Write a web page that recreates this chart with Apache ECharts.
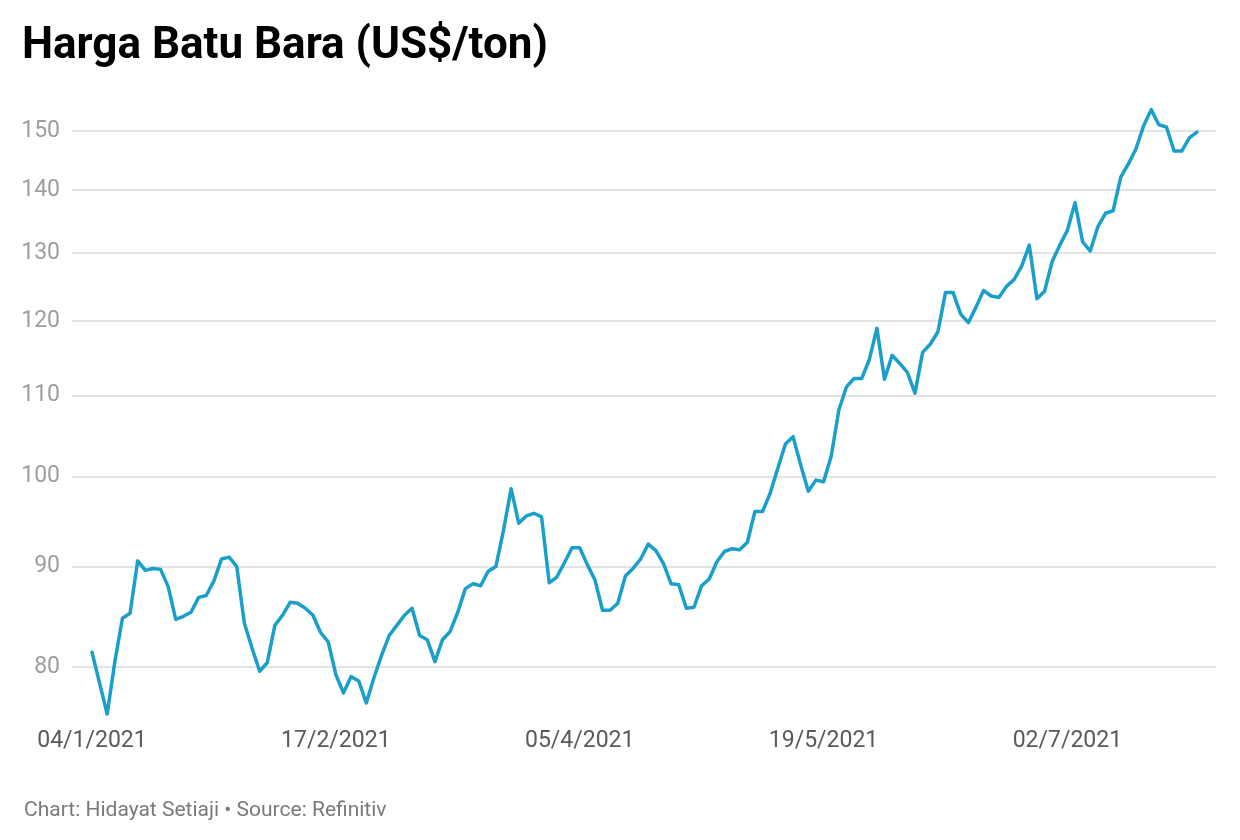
<!DOCTYPE html>
<html>
<head>
<meta charset="utf-8">
<script src="https://cdn.jsdelivr.net/npm/echarts@6/dist/echarts.min.js"></script>
<style>
html,body{margin:0;padding:0;background:#fff;}
#c{width:1240px;height:840px;}
</style>
</head>
<body>
<div id="c"></div>
<script>
// Harga batu bara (US$/ton), trading days from 04/1/2021
var prices = [
  81.4, 78.5, 75.7, 80.5, 84.7, 85.2, 90.6, 89.6, 89.8, 89.7,
  87.9, 84.6, 84.9, 85.3, 86.8, 87.0, 88.5, 90.8, 91.0, 90.0,
  84.2, 81.8, 79.6, 80.4, 84.0, 85.0, 86.3, 86.2, 85.7, 85.0,
  83.3, 82.4, 79.3, 77.6, 79.1, 78.7, 76.7, 79.0, 81.1, 83.0,
  84.0, 85.0, 85.7, 83.0, 82.6, 80.5, 82.6, 83.4, 85.3, 87.7,
  88.2, 88.0, 89.5, 90.0, 93.9, 98.6, 94.7, 95.5, 95.8, 95.4,
  88.3, 88.9, 90.4, 92.0, 92.0, 90.2, 88.6, 85.5, 85.5, 86.2,
  89.0, 89.8, 90.8, 92.4, 91.7, 90.3, 88.2, 88.1, 85.7, 85.8,
  88.0, 88.7, 90.5, 91.6, 91.9, 91.8, 92.6, 96.0, 96.0, 98.1,
  101.0, 103.9, 104.8, 101.4, 98.3, 99.6, 99.4, 102.4, 108.1, 111.1,
  112.2, 112.2, 114.7, 119.0, 112.1, 115.3, 114.2, 113.0, 110.3, 115.7,
  116.8, 118.5, 124.1, 124.1, 121.0, 119.8, 122.0, 124.4, 123.6, 123.4,
  125.0, 126.0, 128.0, 131.2, 123.2, 124.3, 128.7, 131.2, 133.5, 137.9,
  131.7, 130.3, 134.1, 136.2, 136.6, 142.1, 144.3, 146.9, 150.9, 153.8,
  151.1, 150.7, 146.5, 146.5, 148.8, 149.8
];
var xTickIndex = [0, 32, 64, 96, 128];
var xTickLabels = ['04/1/2021', '17/2/2021', '05/4/2021', '19/5/2021', '02/7/2021'];
var yTicks = [80, 90, 100, 110, 120, 130, 140, 150];

var seriesData = prices.map(function (v, i) { return [i, v]; });
var labelMap = {};
xTickIndex.forEach(function (idx, k) { labelMap[idx] = xTickLabels[k]; });

var chart = echarts.init(document.getElementById('c'), null, {renderer: 'canvas'});
chart.setOption({
  animation: false,
  backgroundColor: '#ffffff',
  title: [
    {
      text: 'Harga Batu Bara (US$/ton)',
      left: 17, top: 20,
      textStyle: {fontFamily: 'Roboto', fontWeight: 'bold', fontSize: 44, color: '#000000'}
    },
    {
      text: 'Chart: Hidayat Setiaji \u2022 Source: Refinitiv',
      left: 19, top: 795,
      textStyle: {fontFamily: 'Roboto', fontWeight: 'normal', fontSize: 21, color: '#7a7a7a'}
    }
  ],
  grid: {left: 72, right: 24, top: 103, bottom: 118, containLabel: false},
  xAxis: {
    type: 'value',
    min: -2.62,
    max: 147.5,
    axisLine: {show: false},
    axisTick: {show: false},
    splitLine: {show: false},
    axisLabel: {
      customValues: xTickIndex,
      formatter: function (v) { return labelMap[Math.round(v)] || ''; },
      fontFamily: 'Roboto', fontSize: 23, color: '#5a5a5a', margin: 8
    }
  },
  yAxis: {
    type: 'log',
    logBase: 10,
    min: 75,
    max: 155,
    axisLine: {show: false},
    axisTick: {show: false, customValues: yTicks},
    axisLabel: {
      customValues: yTicks,
      fontFamily: 'Roboto', fontSize: 23, color: '#9e9e9e', margin: 12
    },
    splitLine: {show: true, lineStyle: {color: '#e3e3e3', width: 2}}
  },
  series: [{
    type: 'line',
    data: seriesData,
    showSymbol: false,
    symbol: 'none',
    lineStyle: {color: '#1a9fcb', width: 3.5, join: 'round', cap: 'round'},
    z: 5
  }]
});
</script>
</body>
</html>
